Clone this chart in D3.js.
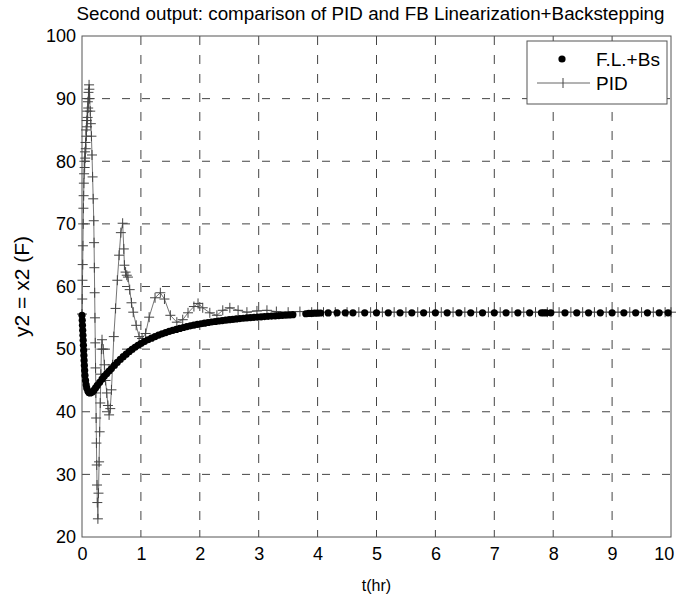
<!DOCTYPE html>
<html>
<head>
<meta charset="utf-8">
<script src="https://cdn.jsdelivr.net/npm/d3@7"></script>
<style>
  body { margin: 0; background: #fff; }
  text { font-family: "Liberation Sans", Arial, sans-serif; fill: #000; }
</style>
</head>
<body>
<div id="chart"></div>
<script>
var w = 677;
var h = 603;
var margin = { top: 36, right: 6, bottom: 66, left: 82 };

// F.L.+Bs series (time in hr, output in F)
var flT = [0, 0.004, 0.008, 0.012, 0.016, 0.02, 0.024, 0.028, 0.032, 0.036, 0.04, 0.045, 0.05, 0.06, 0.07, 0.08, 0.1, 0.12, 0.14, 0.17,
  0.2, 0.23, 0.26, 0.3, 0.34, 0.38, 0.42, 0.46, 0.5, 0.55, 0.6, 0.65, 0.7, 0.75, 0.8, 0.85, 0.9, 0.95, 1.0, 1.06,
  1.12, 1.18, 1.24, 1.3, 1.36, 1.42, 1.48, 1.54, 1.6, 1.66, 1.72, 1.78, 1.84, 1.9, 1.96, 2.02, 2.08, 2.14, 2.2, 2.26,
  2.32, 2.38, 2.44, 2.5, 2.56, 2.62, 2.68, 2.74, 2.8, 2.86, 2.92, 2.98, 3.04, 3.1, 3.16, 3.22, 3.28, 3.34, 3.4, 3.46,
  3.52, 3.58, 3.8, 3.85, 3.9, 3.95, 4.0, 4.05, 4.18, 4.33, 4.47, 4.6, 4.8, 5.0, 5.2, 5.4, 5.6, 5.8, 6.0, 6.2,
  6.4, 6.6, 6.8, 7.0, 7.2, 7.4, 7.6, 7.8, 7.84, 7.88, 7.96, 8.2, 8.4, 8.6, 8.8, 9.0, 9.2, 9.4, 9.6, 9.8, 9.95];
var flY = [55.4, 54.6, 53.8, 53.0, 52.2, 51.4, 50.6, 49.8, 49.0, 48.2, 47.4, 46.6, 45.8, 45.0, 44.3, 43.8, 43.3, 43.05, 43.0, 43.1,
  43.4, 43.8, 44.2, 44.7, 45.2, 45.7, 46.1, 46.5, 46.9, 47.4, 47.9, 48.35, 48.8, 49.2, 49.6, 49.95, 50.3, 50.6, 50.9, 51.2,
  51.5, 51.75, 52.0, 52.25, 52.45, 52.65, 52.85, 53.0, 53.15, 53.3, 53.45, 53.6, 53.72, 53.84, 53.95, 54.05, 54.15, 54.25, 54.33, 54.41,
  54.49, 54.56, 54.63, 54.7, 54.76, 54.82, 54.88, 54.93, 54.98, 55.03, 55.08, 55.12, 55.16, 55.2, 55.24, 55.28, 55.32, 55.36, 55.4, 55.43,
  55.46, 55.5, 55.65, 55.7, 55.72, 55.74, 55.76, 55.77, 55.78, 55.8, 55.8, 55.8, 55.8, 55.8, 55.8, 55.8, 55.8, 55.8, 55.8, 55.8,
  55.8, 55.8, 55.8, 55.8, 55.8, 55.8, 55.8, 55.8, 55.8, 55.8, 55.8, 55.8, 55.8, 55.8, 55.8, 55.8, 55.8, 55.8, 55.8, 55.8, 55.8];

// PID series
var pidT = [0, 0.004, 0.008, 0.012, 0.016, 0.02, 0.024, 0.028, 0.032, 0.036, 0.04, 0.045, 0.05, 0.055, 0.06, 0.065, 0.07, 0.075, 0.08, 0.085,
  0.09, 0.095, 0.1, 0.105, 0.11, 0.115, 0.12, 0.125, 0.13, 0.14, 0.15, 0.16, 0.17, 0.18, 0.19, 0.2, 0.205, 0.21, 0.215, 0.22,
  0.225, 0.23, 0.235, 0.24, 0.245, 0.25, 0.255, 0.26, 0.27, 0.28, 0.29, 0.3, 0.31, 0.32, 0.33, 0.34, 0.36, 0.38, 0.4, 0.42,
  0.44, 0.46, 0.48, 0.5, 0.52, 0.54, 0.57, 0.6, 0.63, 0.66, 0.69, 0.71, 0.72, 0.74, 0.76, 0.78, 0.81, 0.84, 0.87, 0.92,
  0.97, 1.02, 1.08, 1.14, 1.24, 1.33, 1.4, 1.5, 1.61, 1.71, 1.8, 1.9, 1.97, 2.05, 2.17, 2.29, 2.39, 2.51, 2.65, 2.8,
  2.97, 3.14, 3.3, 3.5, 3.7, 3.9, 4.1, 4.3, 4.5, 4.7, 4.9, 5.1, 5.3, 5.5, 5.7, 5.9, 6.1, 6.3, 6.5, 6.7,
  6.9, 7.1, 7.3, 7.5, 7.7, 7.9, 8.1, 8.3, 8.5, 8.7, 8.9, 9.1, 9.3, 9.5, 9.7, 9.9, 10.0];
var pidY = [55.6, 58, 61, 63.5, 66.5, 70, 72.5, 74.5, 76.5, 78, 80, 79, 81.5, 80.5, 83, 82, 85, 84, 86.5, 85.5,
  88, 87, 89.5, 88.5, 91, 90, 92.2, 91.5, 90, 88, 86, 84, 81, 77.5, 74, 70.5, 67, 63, 59, 55,
  51, 47, 43, 39, 35, 31.5, 28.3, 25.5, 22.9, 27, 32, 36.8, 41.4, 46, 50, 51.5, 50, 47.5, 45, 43,
  41, 39.5, 40.5, 43.5, 47.5, 52, 56.5, 61, 65, 68.6, 70.1, 66, 63.4, 62.3, 61.8, 61.5, 59.5, 57.4, 55.9, 53.8,
  52, 51.7, 52.5, 55.1, 58.2, 59, 58, 55.4, 54.3, 54.7, 55.8, 56.8, 57.3, 56.6, 55.8, 55.4, 56.2, 56.6, 56.2, 55.9,
  56.1, 56.2, 56.0, 55.9, 56.0, 55.9, 55.9, 55.9, 55.9, 55.9, 55.9, 55.9, 55.9, 55.9, 55.9, 55.9, 55.9, 55.9, 55.9, 55.9,
  55.9, 55.9, 55.9, 55.9, 55.9, 55.9, 55.9, 55.9, 55.9, 55.9, 55.9, 55.9, 55.9, 55.9, 55.9, 55.9, 55.9];

var xTicks = [0, 1, 2, 3, 4, 5, 6, 7, 8, 9, 10];
var yTicks = [20, 30, 40, 50, 60, 70, 80, 90, 100];
var legendNames = ["F.L.+Bs", "PID"];

var flData = flT.map(function(t, i) { return { t: t, v: flY[i] }; });
var pidData = pidT.map(function(t, i) { return { t: t, v: pidY[i] }; });

var x = d3.scaleLinear()
    .domain([0, 10])
    .range([margin.left, w - margin.right]);

var y = d3.scaleLinear()
    .domain([20, 100])
    .range([h - margin.bottom, margin.top]);

var svg = d3.select("#chart")
    .append("svg")
    .attr("width", w)
    .attr("height", h);

//grid
svg.append("g")
    .selectAll("line")
    .data(xTicks.slice(1, -1))
    .enter()
    .append("line")
    .attr("x1", function(d) { return x(d); })
    .attr("x2", function(d) { return x(d); })
    .attr("y1", y(100))
    .attr("y2", y(20))
    .style("stroke", "#444")
    .style("stroke-width", 1)
    .style("stroke-dasharray", "9,10");

svg.append("g")
    .selectAll("line")
    .data(yTicks.slice(1, -1))
    .enter()
    .append("line")
    .attr("x1", x(0))
    .attr("x2", x(10))
    .attr("y1", function(d) { return y(d); })
    .attr("y2", function(d) { return y(d); })
    .style("stroke", "#444")
    .style("stroke-width", 1)
    .style("stroke-dasharray", "8,12");

//frame
svg.append("rect")
    .attr("x", x(0))
    .attr("y", y(100))
    .attr("width", x(10) - x(0))
    .attr("height", y(20) - y(100))
    .style("fill", "none")
    .style("stroke", "#555")
    .style("stroke-width", 1);

//axes (labels only)
var xAxis = d3.axisBottom(x).tickValues(xTicks).tickSize(0).tickPadding(10);
var yAxis = d3.axisLeft(y).tickValues(yTicks).tickSize(0).tickPadding(6);

var gx = svg.append("g")
    .attr("transform", "translate(0," + y(20) + ")")
    .call(xAxis);
var gy = svg.append("g")
    .attr("transform", "translate(" + x(0) + ",0)")
    .call(yAxis);
[gx, gy].forEach(function(g) {
    g.select(".domain").remove();
    g.selectAll("text")
        .style("font-family", "'Liberation Sans', Arial, sans-serif")
        .style("font-size", "18px");
});
// keep the last label inside the page
gx.selectAll(".tick text")
    .filter(function(d) { return d === 10; })
    .attr("text-anchor", "end")
    .attr("dx", "0.15em");

//PID line + crosses
var line = d3.line()
    .x(function(d) { return x(d.t); })
    .y(function(d) { return y(d.v); });

svg.append("path")
    .datum(pidData)
    .attr("d", line)
    .style("fill", "none")
    .style("stroke", "#666")
    .style("stroke-width", 0.9);

svg.append("g")
    .selectAll("path")
    .data(pidData)
    .enter()
    .append("path")
    .attr("d", function(d) {
        var cx = x(d.t), cy = y(d.v);
        return "M" + (cx - 5) + "," + cy + "h10M" + cx + "," + (cy - 5) + "v10";
    })
    .style("stroke", "#444")
    .style("stroke-width", 1);

//F.L.+Bs dots
svg.append("g")
    .selectAll("circle")
    .data(flData)
    .enter()
    .append("circle")
    .attr("cx", function(d) { return x(d.t); })
    .attr("cy", function(d) { return y(d.v); })
    .attr("r", 3.6)
    .style("fill", "black");

//legend
var lg = svg.append("g");
lg.append("rect")
    .attr("x", 527)
    .attr("y", 41)
    .attr("width", 140)
    .attr("height", 63)
    .style("fill", "white")
    .style("stroke", "#555");
lg.append("circle")
    .attr("cx", 562)
    .attr("cy", 59)
    .attr("r", 3.6)
    .style("fill", "black");
lg.append("line")
    .attr("x1", 537).attr("x2", 590)
    .attr("y1", 83).attr("y2", 83)
    .style("stroke", "#666");
lg.append("line")
    .attr("x1", 563).attr("x2", 563)
    .attr("y1", 78).attr("y2", 88)
    .style("stroke", "#444");
lg.selectAll("text.name")
    .data(legendNames)
    .enter()
    .append("text")
    .attr("class", "name")
    .attr("x", 596)
    .attr("y", function(d, i) { return 66 + i * 24; })
    .style("font-size", "19px")
    .text(function(d) { return d; });

//titles
svg.append("text")
    .attr("x", (x(0) + x(10)) / 2 - 6)
    .attr("y", 20)
    .attr("text-anchor", "middle")
    .attr("textLength", 588)
    .attr("lengthAdjust", "spacingAndGlyphs")
    .style("font-size", "17.5px")
    .text("Second output: comparison of PID and FB Linearization+Backstepping");

svg.append("text")
    .attr("x", (x(0) + x(10)) / 2)
    .attr("y", 591)
    .attr("text-anchor", "middle")
    .style("font-size", "16px")
    .text("t(hr)");

svg.append("text")
    .attr("transform", "translate(29," + (y(60)) + ") rotate(-90)")
    .attr("text-anchor", "middle")
    .style("font-size", "21px")
    .text("y2 = x2 (F)");
</script>
</body>
</html>
